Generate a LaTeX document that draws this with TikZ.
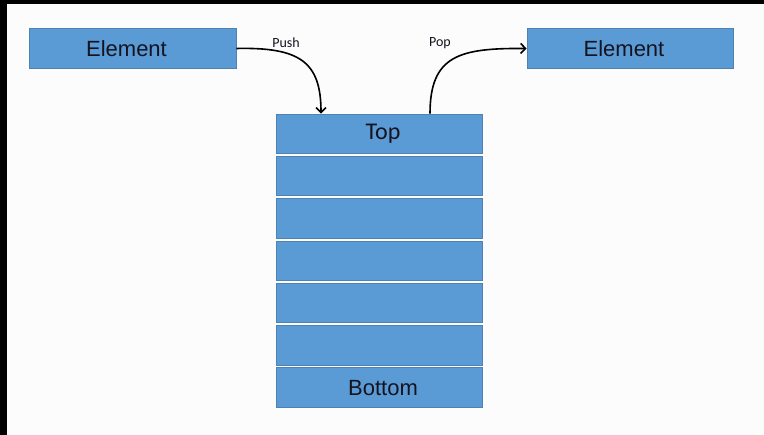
\documentclass[tikz,border=0pt]{standalone}
\usepackage{fontspec}
\setmainfont{Liberation Sans}
\newfontfamily\carlfont{Carlito}
\usetikzlibrary{arrows.meta}
\definecolor{boxblue}{HTML}{5B9BD5}
\definecolor{boxedge}{HTML}{4F81B3}
\definecolor{txt}{HTML}{141420}
\tikzset{
  blubox/.style={draw=boxedge, line width=0.6pt, fill=boxblue, inner sep=0pt,
    minimum width=206pt, minimum height=39.5pt, text=txt, font=\fontsize{22}{24}\selectfont},
  conn/.style={line width=1.6pt, -{Straight Barb[length=5pt,width=10pt,line width=1.6pt]}},
  lbl/.style={font=\carlfont\fontsize{14}{16}\selectfont, text=txt, inner sep=0pt},
  bigtxt/.style={font=\fontsize{22}{24}\selectfont, text=txt, inner sep=0pt}
}
\begin{document}
\begin{tikzpicture}[x=1pt,y=-1pt]
\fill[white!99!black] (0,0) rectangle (764,435);
\useasboundingbox (0,0) rectangle (764,435);
\fill[black] (0,0) rectangle (764,4);
\fill[black] (0,0) rectangle (7,435);
\node[blubox, minimum width=207pt] (el) at (132.5,48.5) {};
\node[blubox, minimum width=206pt] (er) at (630,48.5) {};
\node[bigtxt] (elt) at ([xshift=-6pt]el.center) {Element};
\node[bigtxt] (ert) at ([xshift=-6pt]er.center) {Element};
\foreach \i in {0,...,6}{
  \node[blubox] (s\i) at (379, {114+42.3*\i+19.75}) {};
}
\node[font=\carlfont\fontsize{24}{26}\selectfont, text=txt, inner sep=0pt] (topt) at ([xshift=4pt]s0.center) {Top};
\node[bigtxt] (bott) at ([xshift=4pt]s6.center) {Bottom};
\node[lbl] (push) at (286,43) {Push};
\node[lbl] (pop) at (440,43) {Pop};
\draw[conn] (el.east) .. controls (300,47) and (321,62) .. (s0.north -| 321,0);
\draw[conn] (s0.north -| 430,0) .. controls (430,55) and (460,48) .. (er.west);
\end{tikzpicture}
\end{document}
